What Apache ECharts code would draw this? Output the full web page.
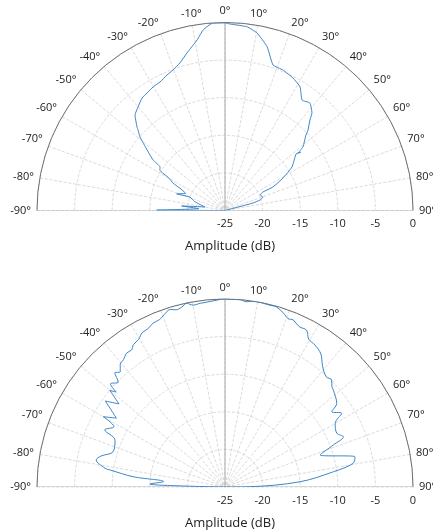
<!DOCTYPE html>
<html>
<head>
<meta charset="utf-8">
<script src="https://cdn.jsdelivr.net/npm/echarts@6/dist/echarts.min.js"></script>
<style>
html,body{margin:0;padding:0;background:#fff;}
#chart{width:433px;height:531px;}
</style>
</head>
<body>
<div id="chart"></div>
<script>
// Angle ticks (degrees) and radius ticks (dB)
const angleTicks = [-90,-80,-70,-60,-50,-40,-30,-20,-10,0,10,20,30,40,50,60,70,80,90];
const ampTicks = [-25,-20,-15,-10,-5,0];

// Top pattern: path order, angle (deg) and amplitude (dB)
const topAngles = [-88,-89.7,-86,-84,-80,-73.7,-69,-71,-66.5,-63.7,-62.2,-60,-58.1,-56.2,-54.9,-52.2,-49.1,-47.2,-46.5,-43.3,-40,-36.4,-33.6,-30.2,-26.8,-23.2,-20.3,-17,-13.6,-9.3,-6.9,-3.6,0,1.5,6.8,10.2,14.4,18.3,22.4,27.2,31.3,34.9,38.3,41.7,43.2,45.9,47,50.8,51.8,52.4,51.5,57,60.7,63.9,64,66.1,70.4,73.3,75,76];
const topAmp    = [-25,-15.9,-21.5,-19.2,-22.3,-20.8,-20.0,-18.2,-19.3,-18.3,-17.2,-16.4,-14.8,-14.6,-13.3,-11.9,-10.05,-9.24,-8.87,-7.55,-7.02,-6.41,-6.25,-5.99,-5.85,-5.4,-5.08,-4.49,-3.46,-2.02,-0.82,0,-0.05,-0.19,-0.39,-1.01,-2.51,-4.63,-4.79,-5.2,-5.78,-7.09,-6.78,-7.62,-8.5,-9.63,-10.28,-11.63,-12.64,-12.3,-12.91,-14.38,-16.16,-17.9,-19.38,-19.91,-19.64,-20.14,-21.14,-25];

// Bottom pattern: path order, angle (deg) and amplitude (dB)
const bottomAngles = [-89,-88.6,-87.7,-84.9,-83.6,-81.6,-81.1,-78.1,-76,-72.5,-66.9,-64.6,-61.5,-60,-57.6,-54.3,-51.9,-50,-48.9,-48,-45.5,-44,-42.3,-40.5,-38.6,-36.3,-34.3,-32.8,-30.3,-28.2,-26,-23.7,-21.3,-19.5,-17,-15.5,-13.5,-11.8,-9.9,-7.7,-5.7,-3.7,0,1.5,4.5,6.7,8.6,11.8,13.9,16,19,20.5,22.2,24.8,27.5,29.5,32.4,35.8,38.8,42.5,44.9,46.8,48.2,53.2,54.8,57.7,60.1,64.3,67,68.8,71.4,76.9,79.5,82,86,89.3,90];
const bottomAmp    = [-25,-19.5,-15.0,-16.8,-12.7,-9.6,-8.85,-7.5,-8.0,-9.4,-9.1,-7.3,-8.2,-6.3,-7.9,-5.4,-7.1,-5.0,-5.8,-4.5,-5.1,-3.9,-4.3,-3.55,-3.35,-2.9,-2.95,-2.5,-2.25,-1.7,-1.6,-1.2,-1.1,-0.7,-0.3,-0.55,-0.4,-0.05,-0.45,-0.35,-0.3,-0.2,0,0,0,-0.2,0,-0.05,-0.1,-0.1,-0.7,-1.1,-1.0,-1.5,-1.5,-2.4,-2.65,-3.2,-4.3,-5.1,-4.9,-5.5,-5.67,-6.44,-7.63,-6.65,-8.1,-8.5,-7.9,-9.55,-11.67,-7.25,-7.65,-10.45,-15.0,-21.7,-25];

// Reference lines (0° axis and the horizontal baseline)
const zeroAngles = [0, 0];
const zeroAmp = [-25, 0];
const baseAngles = [-90, 0, 90];
const baseAmp = [0, -25, 0];

const FONT = 'Open Sans';
const lineColor = '#3d85c6';
const R = 188;
const centers = [[225,210.5],[225,487]];

function pairs(amp, ang){ return amp.map((a,i)=>[a, ang[i]]); }

function angleAxis(idx){
  return {
    polarIndex: idx, type:'value', min:angleTicks[0], max:angleTicks[angleTicks.length-1], interval:10,
    startAngle:180, endAngle:0, clockwise:true,
    axisLine:{show:true, lineStyle:{color:'#6e6e6e', width:1}},
    axisTick:{show:false},
    axisLabel:{formatter: v => v + '°', fontSize:11, color:'#222', fontFamily:FONT, margin:6},
    splitLine:{show:true, lineStyle:{color:'#d2d2d2', type:'dashed', width:0.8}}
  };
}
function radiusAxis(idx){
  return {
    polarIndex: idx, type:'value', min:ampTicks[0], max:ampTicks[ampTicks.length-1], interval:5,
    axisLine:{show:false},
    axisTick:{show:false},
    axisLabel:{show:false},
    splitLine:{show:true, lineStyle:{color:'#d2d2d2', type:'dashed', width:0.8}}
  };
}
function refSeries(idx){
  return [
    {type:'line', coordinateSystem:'polar', polarIndex:idx, data:pairs(zeroAmp, zeroAngles), symbol:'none', silent:true,
     lineStyle:{color:'#aaaaaa', width:1}, z:1},
    {type:'line', coordinateSystem:'polar', polarIndex:idx, data:pairs(baseAmp, baseAngles), symbol:'none', silent:true,
     lineStyle:{color:'#bbbbbb', width:1}, z:1}
  ];
}

const chart = echarts.init(document.getElementById('chart'), null, {renderer:'canvas'});
chart.setOption({
  animation:false,
  textStyle:{fontFamily:FONT},
  title:[
    {text:'Amplitude (dB)', left:225, top:235, textAlign:'center', textStyle:{fontSize:13, fontWeight:'normal', color:'#222', fontFamily:FONT}},
    {text:'Amplitude (dB)', left:225, top:512, textAlign:'center', textStyle:{fontSize:13, fontWeight:'normal', color:'#222', fontFamily:FONT}}
  ],
  polar:[
    {center:centers[0], radius:R},
    {center:centers[1], radius:R}
  ],
  angleAxis:[angleAxis(0), angleAxis(1)],
  radiusAxis:[radiusAxis(0), radiusAxis(1)],
  // dB scale labels along the right half of each baseline
  grid:[
    {left:centers[0][0], width:R, top:centers[0][1]-1, height:1},
    {left:centers[1][0], width:R, top:centers[1][1]-1, height:1}
  ],
  xAxis:[0,1].map(i => ({
    gridIndex:i, type:'value', min:ampTicks[0], max:ampTicks[ampTicks.length-1], interval:5,
    axisLine:{show:false}, axisTick:{show:false}, splitLine:{show:false},
    axisLabel:{fontSize:11, color:'#222', fontFamily:FONT, margin:8}
  })),
  yAxis:[0,1].map(i => ({gridIndex:i, type:'value', show:false})),
  series:[
    ...refSeries(0), ...refSeries(1),
    {type:'line', coordinateSystem:'polar', polarIndex:0, data:pairs(topAmp, topAngles), symbol:'none',
     smooth:0.15, lineStyle:{color:lineColor, width:1}, z:3},
    {type:'line', coordinateSystem:'polar', polarIndex:1, data:pairs(bottomAmp, bottomAngles), symbol:'none',
     smooth:0.35, lineStyle:{color:lineColor, width:1}, z:3}
  ]
});
</script>
</body>
</html>
